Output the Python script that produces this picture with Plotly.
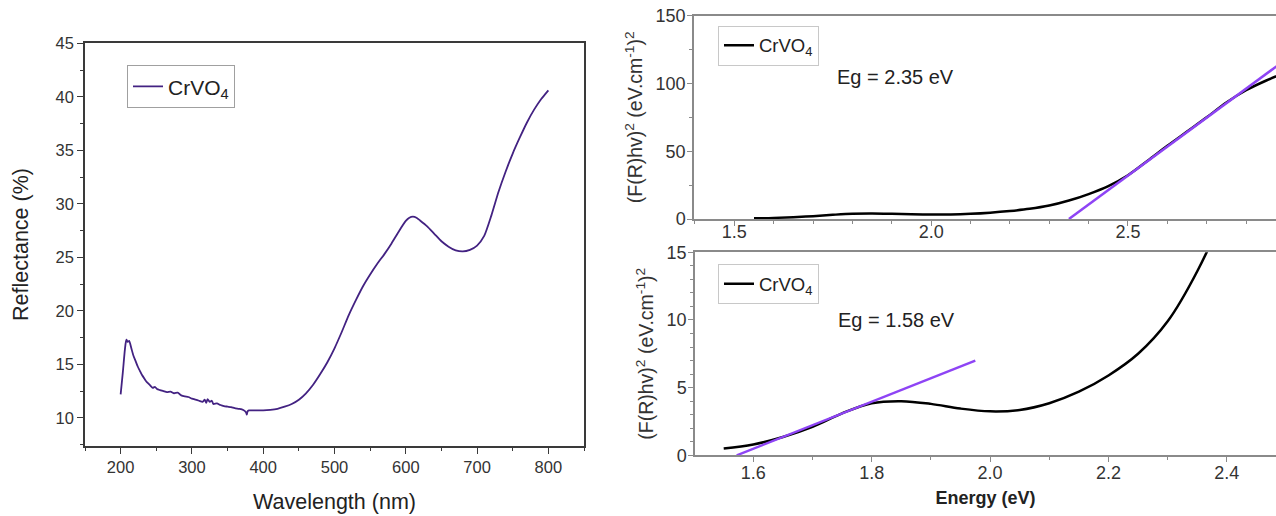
import plotly.graph_objects as go

# ---------------- data ----------------
wavelength = [200, 203, 206, 208, 210, 212, 215, 218, 221, 224, 227, 230, 233, 236, 239, 242, 245, 248,
              251, 255, 260, 265, 270, 275, 280, 285, 290, 295, 300, 305, 310, 315, 318, 320, 322, 325,
              328, 330, 335, 340, 345, 350, 355, 360, 365, 370, 374, 376, 377, 378, 380, 385, 390, 400,
              410, 420, 430, 440, 450, 460, 470, 480, 490, 500, 510, 520, 530, 540, 550, 560, 570, 580,
              590, 600, 605, 610, 615, 620, 630, 640, 650, 660, 670, 680, 690, 700, 710, 720, 730, 740,
              750, 760, 770, 780, 790, 795, 800]
reflectance = [12.2, 14.2, 16.4, 17.3, 17.1, 17.2, 16.5, 15.8, 15.3, 14.8, 14.4, 14.0, 13.7, 13.4, 13.2,
               13.0, 12.8, 12.9, 12.7, 12.6, 12.5, 12.4, 12.45, 12.3, 12.35, 12.1, 12.0, 11.95, 11.8,
               11.7, 11.6, 11.5, 11.7, 11.4, 11.75, 11.5, 11.6, 11.3, 11.35, 11.2, 11.1, 11.05, 11.0,
               10.9, 10.85, 10.8, 10.65, 10.5, 10.3, 10.6, 10.7, 10.7, 10.7, 10.7, 10.75, 10.85, 11.05,
               11.3, 11.7, 12.3, 13.1, 14.1, 15.2, 16.5, 18.0, 19.6, 21.0, 22.3, 23.4, 24.4, 25.3, 26.3,
               27.4, 28.4, 28.7, 28.8, 28.7, 28.45, 27.9, 27.2, 26.5, 26.0, 25.65, 25.55, 25.7, 26.1,
               27.0, 28.9, 31.1, 33.0, 34.7, 36.2, 37.6, 38.8, 39.8, 40.2, 40.6]

energy = [1.55, 1.6, 1.65, 1.7, 1.75, 1.8, 1.85, 1.9, 1.95, 2.0, 2.05, 2.1, 2.15, 2.2, 2.25, 2.3,
          2.35, 2.4, 2.45, 2.5, 2.55, 2.6, 2.65, 2.7, 2.75, 2.8, 2.85, 2.9]
fr_hv2 = [0.5, 0.8, 1.35, 2.1, 3.1, 3.85, 4.0, 3.8, 3.45, 3.25, 3.35, 3.85, 4.7, 5.9, 7.5, 9.9,
          13.6, 18.4, 24.3, 32.3, 43.0, 54.0, 64.5, 75.0, 86.0, 95.0, 102.0, 108.0]

tangent_top_x = [2.35, 2.9]
tangent_top_y = [0.0, 117.5]
tangent_bottom_x = [1.572, 1.975]
tangent_bottom_y = [0.0, 7.0]

left_xticks = [200, 300, 400, 500, 600, 700, 800]
left_yticks = [10, 15, 20, 25, 30, 35, 40, 45]

# ---------------- styles ----------------
FONT = "Liberation Sans, Arial, sans-serif"
PURPLE_DARK = "#432282"
PURPLE = "#8e44f5"
W, H = 1276, 516

def px(x):
    return x / W

def py(y):
    return (H - y) / H

fig = go.Figure()

fig.add_trace(go.Scatter(x=wavelength, y=reflectance, mode="lines", name="CrVO<sub>4</sub>",
                         line=dict(color=PURPLE_DARK, width=1.8, shape="spline", smoothing=0.6),
                         xaxis="x", yaxis="y", legend="legend"))

fig.add_trace(go.Scatter(x=energy, y=fr_hv2, mode="lines", name="CrVO<sub>4</sub>",
                         line=dict(color="black", width=2.5, shape="spline", smoothing=1.0),
                         xaxis="x2", yaxis="y2", legend="legend2"))
fig.add_trace(go.Scatter(x=tangent_top_x, y=tangent_top_y, mode="lines", showlegend=False,
                         line=dict(color=PURPLE, width=2.5), xaxis="x2", yaxis="y2"))

fig.add_trace(go.Scatter(x=energy, y=fr_hv2, mode="lines", name="CrVO<sub>4</sub>",
                         line=dict(color="black", width=2.5, shape="spline", smoothing=1.0),
                         xaxis="x3", yaxis="y3", legend="legend3"))
fig.add_trace(go.Scatter(x=tangent_bottom_x, y=tangent_bottom_y, mode="lines", showlegend=False,
                         line=dict(color=PURPLE, width=2.5), xaxis="x3", yaxis="y3"))

left_axis = dict(showgrid=False, zeroline=False, showline=True, linecolor="#3a3a3a", linewidth=1.6,
                 mirror=True, ticks="outside", ticklen=6, tickwidth=1.3, tickcolor="#3a3a3a",
                 tickfont=dict(family=FONT, size=16.5, color="#333"), automargin=False)
right_axis = dict(showgrid=False, zeroline=False, showline=True, linecolor="#8a8a8a", linewidth=1.5,
                  ticks="outside", ticklen=5, tickwidth=1.2, tickcolor="#8a8a8a",
                  tickfont=dict(family=FONT, size=18, color="#333"), automargin=False)

ytitle = "(F(R)hv)<sup>2</sup> (eV.cm<sup>-1</sup>)<sup>2</sup>"

fig.update_layout(
    width=W, height=H, template="none",
    margin=dict(l=0, r=0, t=0, b=0),
    paper_bgcolor="white", plot_bgcolor="white",
    font=dict(family=FONT, color="#333"),
    xaxis=dict(left_axis, domain=[px(85), px(584)], range=[150, 850], tickvals=left_xticks,
               minor=dict(ticks="outside", ticklen=3.5, dtick=50, tick0=150, tickcolor="#3a3a3a"),
               title=dict(text="Wavelength (nm)", font=dict(family=FONT, size=21.5, color="#222"),
                          standoff=19),
               anchor="y"),
    yaxis=dict(left_axis, domain=[py(445.7), py(43.3)], range=[7.4, 45], tickvals=left_yticks,
               minor=dict(ticks="outside", ticklen=3.5, dtick=2.5, tick0=0, tickcolor="#3a3a3a"),
               title=dict(text="Reflectance (%)", font=dict(family=FONT, size=21.5, color="#222"),
                          standoff=21),
               anchor="x"),
    xaxis2=dict(right_axis, domain=[px(694), 1.0], range=[1.3976, 2.876], tick0=1.5, dtick=0.5,
                tickformat=".1f", mirror=True, ticklabelstandoff=-9,
                minor=dict(ticks="outside", ticklen=3, dtick=0.1, tick0=1.5, tickcolor="#8a8a8a"),
                anchor="y2"),
    yaxis2=dict(right_axis, domain=[py(219), py(15.7)], range=[0, 150], tick0=0, dtick=50,
                ticklabelstandoff=-2,
                minor=dict(ticks="outside", ticklen=3, dtick=25, tick0=0, tickcolor="#8a8a8a"),
                title=dict(text=ytitle, font=dict(family=FONT, size=19.5, color="#333"), standoff=8),
                anchor="x2"),
    xaxis3=dict(right_axis, domain=[px(695), 1.0], range=[1.5015, 2.483], tick0=1.6, dtick=0.2,
                tickformat=".1f", mirror=True, ticklabelstandoff=-5,
                minor=dict(ticks="outside", ticklen=3, dtick=0.1, tick0=1.5, tickcolor="#8a8a8a"),
                title=dict(text="<b>Energy (eV)</b>", font=dict(family=FONT, size=18, color="#222"),
                           standoff=10),
                anchor="y3"),
    yaxis3=dict(right_axis, domain=[py(455.3), py(252.3)], range=[0, 15], tick0=0, dtick=5,
                ticklabelstandoff=-2,
                minor=dict(ticks="outside", ticklen=3, dtick=1, tick0=0, tickcolor="#8a8a8a"),
                title=dict(text=ytitle, font=dict(family=FONT, size=19.5, color="#333"), standoff=8),
                anchor="x3"),
    legend=dict(x=px(127), y=py(65.3), xanchor="left", yanchor="top", bgcolor="white",
                bordercolor="#a0a0a0", borderwidth=1, font=dict(family=FONT, size=21, color="#222")),
    legend2=dict(x=px(718), y=py(25.7), xanchor="left", yanchor="top", bgcolor="white",
                 bordercolor="#c8c8c8", borderwidth=1, font=dict(family=FONT, size=18.5, color="#222")),
    legend3=dict(x=px(718), y=py(264.3), xanchor="left", yanchor="top", bgcolor="white",
                 bordercolor="#c8c8c8", borderwidth=1, font=dict(family=FONT, size=18.5, color="#222")),
    annotations=[
        dict(text="Eg = 2.35 eV", x=1.756, y=105, xref="x2", yref="y2", xanchor="left",
             yanchor="middle", showarrow=False, font=dict(family=FONT, size=20, color="#222")),
        dict(text="Eg = 1.58 eV", x=1.74, y=10, xref="x3", yref="y3", xanchor="left",
             yanchor="middle", showarrow=False, font=dict(family=FONT, size=20, color="#222")),
    ],
)

fig.write_html("out.html")
